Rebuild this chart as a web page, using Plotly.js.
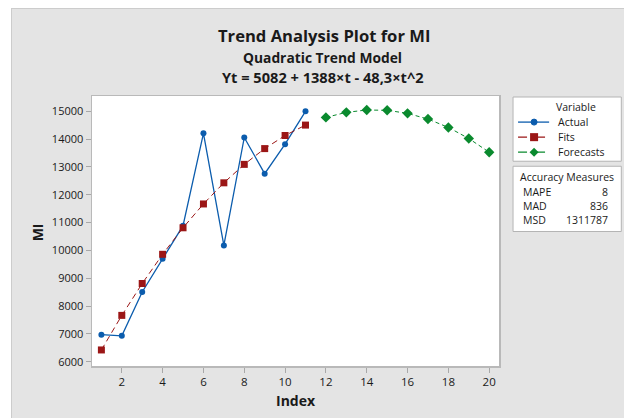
<!DOCTYPE html>
<html>
<head>
<meta charset="utf-8">
<script src="https://cdn.plot.ly/plotly-3.0.1.min.js"></script>
<style>
html,body{margin:0;padding:0;background:#ffffff;width:624px;height:418px;overflow:hidden;}
#chart{position:absolute;left:11px;top:8px;width:612px;height:409px;border-left:1px solid #cccccc;border-top:1px solid #cccccc;}
</style>
</head>
<body>
<div id="chart"></div>
<script>
// ---- data ----
const actualIndex = [1, 2, 3, 4, 5, 6, 7, 8, 9, 10, 11];
const actualValues = [6970, 6930, 8505, 9700, 10890, 14210, 10180, 14060, 12760, 13820, 15000];
const fitValues = [6422, 7665, 8811, 9861, 10814, 11671, 12431, 13094, 13661, 14132, 14506];
const forecastIndex = [12, 13, 14, 15, 16, 17, 18, 19, 20];
const forecastValues = [14783, 14964, 15049, 15037, 14928, 14723, 14422, 14024, 13530];
const xTicks = [2, 4, 6, 8, 10, 12, 14, 16, 18, 20];
const yTicks = [6000, 7000, 8000, 9000, 10000, 11000, 12000, 13000, 14000, 15000];
const legendNames = ["Actual", "Fits", "Forecasts"];
const measureNames = ["MAPE", "MAD", "MSD"];
const measureValues = ["8", "836", "1311787"];
const titleLines = ["Trend Analysis Plot for MI", "Quadratic Trend Model", "Yt = 5082 + 1388×t - 48,3×t^2"];

// ---- styles ----
const cBlue = '#0b5cad', cRed = '#9b1616', cGreen = '#0a8a2e';
const font = 'Open Sans, Noto Sans, sans-serif';
const txt = '#1a1a1a';

// page pixel -> paper coords (plot area page px: x 92..498, y 96..365)
const PL = 92, PR = 498, PT = 96, PB = 365;
const px = x => (x - PL) / (PR - PL);
const py = y => (PB - y) / (PB - PT);

const traces = [
  {x: actualIndex, y: actualValues, type: 'scatter', mode: 'lines+markers', name: legendNames[0],
   line: {color: cBlue, width: 1.3}, marker: {color: cBlue, size: 6, symbol: 'circle'}},
  {x: actualIndex, y: fitValues, type: 'scatter', mode: 'lines+markers', name: legendNames[1],
   line: {color: cRed, width: 1, dash: '6px,4px'}, marker: {color: cRed, size: 7, symbol: 'square'}},
  {x: forecastIndex, y: forecastValues, type: 'scatter', mode: 'lines+markers', name: legendNames[2],
   line: {color: cGreen, width: 1, dash: '4px,3px'}, marker: {color: cGreen, size: 8, symbol: 'diamond'}}
];

const ann = [];
const shapes = [];
// titles
ann.push({text: '<b>' + titleLines[0] + '</b>', x: px(323), y: py(36), font: {size: 16.6, color: txt}});
ann.push({text: '<b>' + titleLines[1] + '</b>', x: px(322), y: py(58), font: {size: 13.8, color: txt}});
ann.push({text: '<b>' + titleLines[2] + '</b>', x: px(322), y: py(77), font: {size: 14.6, color: txt}});
// axis titles
ann.push({text: '<b>Index</b>', x: px(295), y: py(399), font: {size: 14, color: txt}});
ann.push({text: '<b>MI</b>', x: px(38), y: py(232), textangle: -90, font: {size: 14, color: txt}});

// legend boxes
shapes.push({type: 'rect', xref: 'paper', yref: 'paper', x0: px(512), x1: px(620), y0: py(97), y1: py(161),
  fillcolor: '#ffffff', line: {color: '#b4b4b4', width: 1}});
shapes.push({type: 'rect', xref: 'paper', yref: 'paper', x0: px(512), x1: px(620), y0: py(166), y1: py(231),
  fillcolor: '#ffffff', line: {color: '#b4b4b4', width: 1}});
ann.push({text: 'Variable', x: px(575), y: py(107), font: {size: 10.5, color: txt}});
const legY = [122, 137, 152];
const legCol = [cBlue, cRed, cGreen];
const legDash = ['solid', 'dash', 'dash'];
for (let i = 0; i < 3; i++) {
  const yy = legY[i];
  shapes.push({type: 'line', xref: 'paper', yref: 'paper', x0: px(517), x1: px(548), y0: py(yy), y1: py(yy),
    line: {color: legCol[i], width: 1.3, dash: legDash[i]}});
  ann.push({text: legendNames[i], x: px(555), y: py(yy), xanchor: 'left', font: {size: 10.5, color: txt}});
}
// legend markers
shapes.push({type: 'circle', xref: 'paper', yref: 'paper', x0: px(530), x1: px(536), y0: py(119), y1: py(125),
  fillcolor: cBlue, line: {color: cBlue, width: 1}});
shapes.push({type: 'rect', xref: 'paper', yref: 'paper', x0: px(529), x1: px(537), y0: py(133), y1: py(141),
  fillcolor: cRed, line: {color: cRed, width: 0}});
(function () {
  const cx = 533, cy = 152, r = 4.5;
  const pts = [[cx, cy - r], [cx + r, cy], [cx, cy + r], [cx - r, cy]];
  const p = 'M ' + pts.map(q => px(q[0]) + ',' + py(q[1])).join(' L ') + ' Z';
  shapes.push({type: 'path', xref: 'paper', yref: 'paper', path: p, fillcolor: cGreen, line: {color: cGreen, width: 0}});
})();

ann.push({text: 'Accuracy Measures', x: px(566), y: py(177), font: {size: 10.5, color: txt}});
const mY = [192, 206, 220];
for (let i = 0; i < 3; i++) {
  ann.push({text: measureNames[i], x: px(520), y: py(mY[i]), xanchor: 'left', font: {size: 10.5, color: txt}});
  ann.push({text: measureValues[i], x: px(609), y: py(mY[i]), xanchor: 'right', font: {size: 10.5, color: txt}});
}
ann.forEach(a => {
  a.xref = 'paper'; a.yref = 'paper'; a.showarrow = false;
  if (!a.xanchor) a.xanchor = 'center';
  a.yanchor = 'middle';
  a.font.family = font;
});

const layout = {
  width: 612, height: 409,
  margin: {l: 80, r: 125, t: 87, b: 52, pad: 0},
  paper_bgcolor: '#e4e4e4',
  plot_bgcolor: '#ffffff',
  showlegend: false,
  font: {family: font, color: txt, size: 11},
  xaxis: {range: [0.54, 20.48], tickvals: xTicks, ticks: 'outside', ticklen: 5, tickcolor: '#a8a8a8',
    showline: true, mirror: true, linecolor: '#b9b9b9', linewidth: 1.5, showgrid: false, zeroline: false,
    tickfont: {size: 11.5, color: txt}},
  yaxis: {range: [5845, 15552], tickvals: yTicks, tickformat: 'd', ticks: 'outside', ticklen: 5, tickcolor: '#a8a8a8',
    showline: true, mirror: true, linecolor: '#b9b9b9', linewidth: 1.5, showgrid: false, zeroline: false,
    tickfont: {size: 11, color: txt}},
  annotations: ann,
  shapes: shapes
};

Plotly.newPlot('chart', traces, layout, {displayModeBar: false, staticPlot: true});
</script>
</body>
</html>
